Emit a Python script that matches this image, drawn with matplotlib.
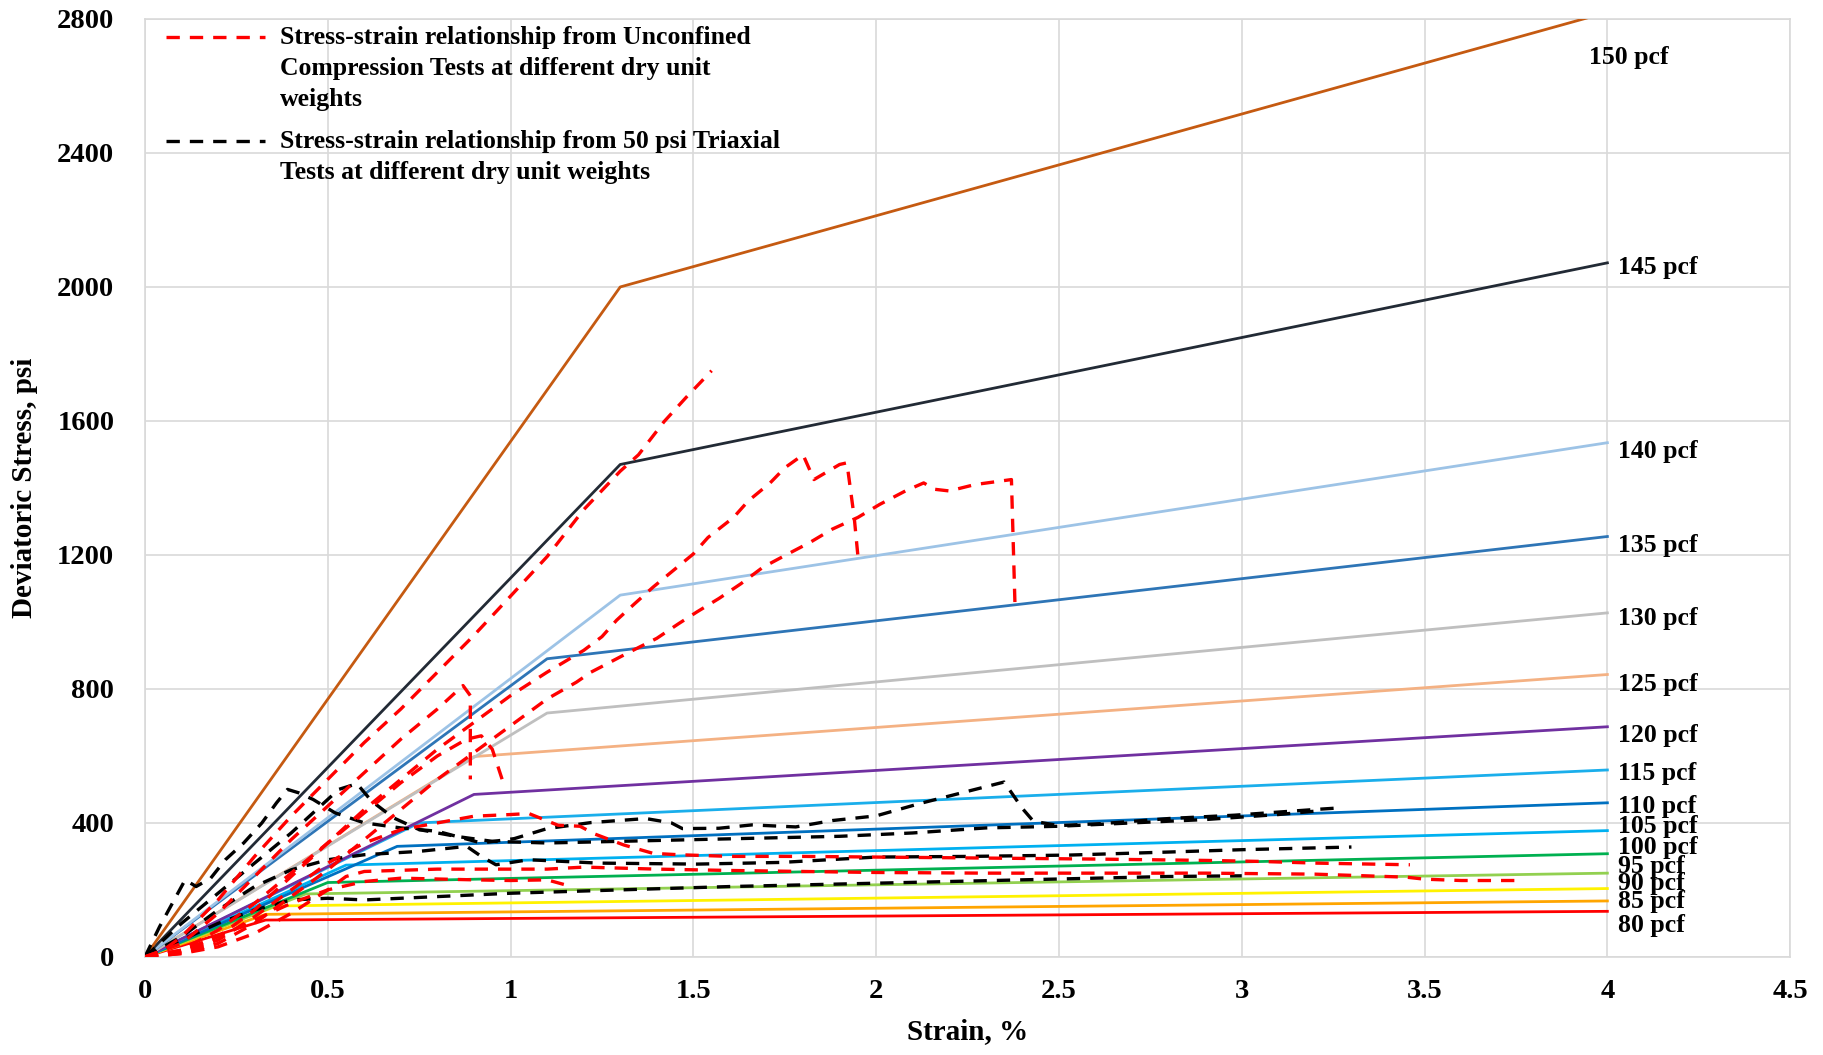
"""Bilinear stress-strain models vs UCS / triaxial test curves."""
import matplotlib
matplotlib.use("Agg")
import matplotlib.pyplot as plt
from matplotlib.lines import Line2D

plt.rcParams["font.family"] = ["Liberation Serif", "DejaVu Serif"]
plt.rcParams["font.weight"] = "bold"

# bilinear models: (0,0) -> (break) -> (4 %, end)
pcf = [80, 85, 90, 95, 100, 105, 110, 115, 120, 125, 130, 135, 140, 145, 150]
break_strain = [0.33, 0.33, 0.36, 0.44, 0.5, 0.55, 0.69, 0.75, 0.9, 0.9, 1.1, 1.1, 1.3, 1.3, 1.3]
break_stress = [110, 127, 152, 188, 222, 274, 330, 400, 485, 598, 728, 890, 1080, 1470, 2000]
end_strain = 4.0
end_stress = [136, 167, 204, 250, 308, 377, 460, 558, 687, 843, 1027, 1255, 1535, 2072, 2820]
line_colors = ["#FF0000", "#FFA500", "#FFF200", "#92D050", "#00B050", "#00B0F0",
               "#0070C0", "#1AAEEB", "#7030A0", "#F4B183", "#BFBFBF", "#2E75B6",
               "#9DC3E6", "#222A35", "#C55A11"]

# unconfined compression test curves (strain %, stress psi)
ucs_strain = [
    [0, 0.05, 0.1, 0.2, 0.3, 0.4, 0.5, 0.6, 0.7, 0.8, 0.9, 1.0, 1.1, 1.2, 1.3, 1.35, 1.42, 1.48, 1.55],
    [0, 0.1, 0.2, 0.3, 0.4, 0.5, 0.6, 0.7, 0.8, 0.9, 1.0, 1.1, 1.2, 1.25, 1.29, 1.34, 1.39, 1.45,
     1.5, 1.54, 1.61, 1.65, 1.71, 1.75, 1.8, 1.83, 1.9, 1.92, 1.94, 1.95],
    [0, 0.1, 0.2, 0.3, 0.4, 0.5, 0.6, 0.7, 0.8, 0.9, 1.0, 1.1, 1.18, 1.22, 1.25, 1.32, 1.4, 1.46,
     1.51, 1.57, 1.63, 1.69, 1.75, 1.82, 1.88, 1.95, 2.01, 2.08, 2.13, 2.16, 2.2, 2.27, 2.37, 2.38],
    [0, 0.1, 0.2, 0.3, 0.4, 0.5, 0.6, 0.7, 0.8, 0.9, 1.0, 1.05, 1.13, 1.19, 1.23, 1.31, 1.39,
     1.46, 1.6, 1.8, 2.0, 2.3, 2.6, 2.9, 3.05, 3.2, 3.46],
    [0, 0.1, 0.2, 0.3, 0.4, 0.5, 0.55, 0.6, 0.8, 1.0, 1.1, 1.2, 1.4, 1.6, 1.8, 2.0, 2.3, 2.6,
     2.9, 3.2, 3.45, 3.5, 3.6, 3.75],
    [0, 0.1, 0.2, 0.3, 0.4, 0.5, 0.6, 0.7, 0.8, 0.87, 0.89, 0.89],
    [0, 0.1, 0.2, 0.3, 0.4, 0.5, 0.6, 0.7, 0.8, 0.88, 0.92, 0.95, 0.98],
    [0, 0.1, 0.2, 0.3, 0.4, 0.5, 0.6, 0.7, 0.9, 1.0, 1.1, 1.15],
]
ucs_stress = [
    [0, 20, 60, 170, 300, 420, 530, 640, 740, 850, 960, 1077, 1195, 1335, 1450, 1499, 1598, 1670, 1750],
    [0, 15, 60, 140, 240, 340, 440, 530, 620, 700, 780, 850, 915, 956, 1005, 1055, 1104, 1158,
     1203, 1252, 1312, 1361, 1415, 1460, 1499, 1425, 1470, 1475, 1312, 1198],
    [0, 10, 40, 100, 180, 260, 350, 440, 530, 610, 690, 770, 820, 850, 867, 907, 951, 995,
     1030, 1070, 1114, 1163, 1198, 1238, 1277, 1312, 1351, 1391, 1415, 1396, 1391, 1410, 1425, 1040],
    [0, 15, 50, 120, 200, 280, 340, 380, 400, 420, 425, 428, 393, 390, 367, 334, 309,
     305, 300, 300, 298, 295, 292, 288, 285, 280, 275],
    [0, 10, 30, 70, 130, 200, 240, 255, 262, 262, 262, 268, 262, 258, 255, 252, 250, 250,
     250, 247, 238, 232, 228, 228],
    [0, 40, 130, 240, 350, 450, 550, 650, 740, 810, 780, 530],
    [0, 20, 80, 160, 250, 340, 430, 520, 600, 650, 660, 620, 520],
    [0, 20, 60, 110, 160, 200, 225, 235, 230, 228, 230, 215],
]

# 50 psi triaxial test curves
tx_strain = [
    [0, 0.04, 0.08, 0.11, 0.14, 0.18, 0.22, 0.27, 0.32, 0.36, 0.39, 0.42, 0.46, 0.52, 0.6, 0.7,
     0.8, 0.92, 1.01, 1.1, 1.22, 1.37, 1.44, 1.47, 1.57, 1.66, 1.78, 1.88, 2.0, 2.12, 2.26, 2.35,
     2.4, 2.43, 2.5, 2.62, 2.8, 2.98, 3.2, 3.27],
    [0, 0.1, 0.2, 0.3, 0.4, 0.48, 0.53, 0.58, 0.62, 0.68, 0.75, 0.85, 0.95, 1.1, 1.3, 1.5, 1.7,
     1.9, 2.1, 2.3, 2.5, 2.7, 2.9, 3.1, 3.2],
    [0, 0.1, 0.2, 0.3, 0.4, 0.5, 0.6, 0.75, 0.88, 0.92, 0.96, 1.05, 1.24, 1.51, 1.74, 2.0, 2.26,
     2.53, 2.8, 3.0, 3.3],
    [0, 0.1, 0.2, 0.3, 0.4, 0.5, 0.6, 0.8, 1.0, 1.3, 1.6, 2.0, 2.4, 2.8, 3.0],
]
tx_stress = [
    [0, 90, 170, 230, 210, 235, 290, 340, 400, 460, 500, 490, 470, 430, 400, 385,
     375, 340, 353, 383, 401, 413, 400, 383, 384, 394, 388, 407, 421, 458, 497, 522,
     443, 405, 392, 398, 413, 423, 440, 445],
    [0, 100, 190, 280, 370, 450, 500, 517, 465, 415, 380, 360, 345, 340, 345, 350, 355,
     360, 370, 385, 390, 400, 410, 425, 435],
    [0, 60, 140, 210, 260, 290, 305, 315, 330, 300, 275, 290, 280, 277, 282, 298, 300,
     304, 313, 320, 328],
    [0, 50, 100, 140, 170, 175, 170, 180, 190, 200, 210, 220, 230, 240, 242],
]

# label heights beside the line ends (layout only)
label_x = [4.03] * 14 + [3.95]
label_y = [95, 164, 219, 271, 327, 388, 450, 548, 662, 814, 1009, 1227, 1510, 2058, 2684]

fig = plt.figure(figsize=(18.23, 10.55), dpi=100)
ax = fig.add_axes([0.0795, 0.093, 0.9025, 0.889])

for i in range(len(pcf)):
    ax.plot([0, break_strain[i], end_strain], [0, break_stress[i], end_stress[i]],
            color=line_colors[i], lw=2.0, zorder=3)
    ax.text(label_x[i], label_y[i], f"{pcf[i]} pcf", fontsize=18.5, fontweight="bold",
            ha="left", va="center", zorder=6)

for xs, ys in zip(tx_strain, tx_stress):
    ax.plot(xs, ys, color="black", lw=2.4, dashes=(4, 3), zorder=4)
for xs, ys in zip(ucs_strain, ucs_stress):
    ax.plot(xs, ys, color="#FF0000", lw=2.4, dashes=(4, 3), zorder=4)

ax.set_xlim(0, 4.5)
ax.set_ylim(0, 2800)
ax.set_xticks([0, 0.5, 1, 1.5, 2, 2.5, 3, 3.5, 4, 4.5])
ax.set_xticklabels(["0", "0.5", "1", "1.5", "2", "2.5", "3", "3.5", "4", "4.5"])
ax.set_yticks(range(0, 2801, 400))
ax.grid(True, color="#D9D9D9", lw=1.2)
ax.set_axisbelow(True)
for s in ax.spines.values():
    s.set_color("#D9D9D9")
    s.set_linewidth(1.2)
ax.tick_params(axis="both", length=0, labelsize=20.5)
ax.tick_params(axis="y", pad=22)
ax.tick_params(axis="x", pad=16)
for lab in ax.get_xticklabels() + ax.get_yticklabels():
    lab.set_fontweight("bold")
ax.set_xlabel("Strain, %", fontsize=21, fontweight="bold", labelpad=10)
ax.set_ylabel("Deviatoric Stress, psi", fontsize=21, fontweight="bold", labelpad=14)

# legend drawn by hand so the key sits on the first text line
leg = [("#FF0000", 0.981,
        "Stress-strain relationship from Unconfined\nCompression Tests at different dry unit\nweights"),
       ("black", 0.870,
        "Stress-strain relationship from 50 psi Triaxial\nTests at different dry unit weights")]
for col, yk, txt in leg:
    ax.add_line(Line2D([0.013, 0.073], [yk, yk], transform=ax.transAxes, color=col,
                       lw=2.4, dashes=(4, 3), zorder=7))
    ax.text(0.082, yk + 0.012, txt, transform=ax.transAxes, fontsize=18.5,
            fontweight="bold", ha="left", va="top", linespacing=1.45, zorder=7)

fig.savefig("out.png", dpi=100)
